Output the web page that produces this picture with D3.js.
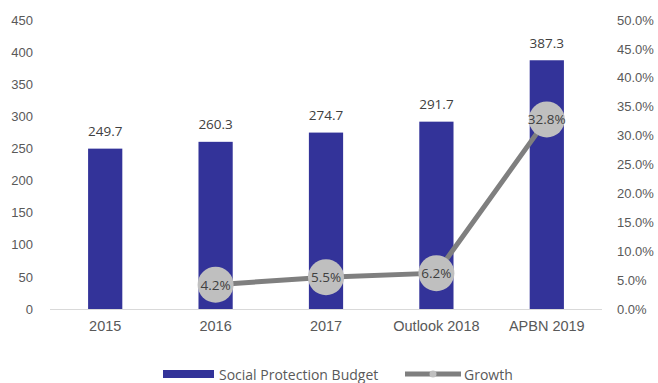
<!DOCTYPE html>
<html>
<head>
<meta charset="utf-8">
<script src="https://cdn.jsdelivr.net/npm/d3@7"></script>
<style>
  html, body { margin: 0; padding: 0; background: #fff; }
  svg { display: block; font-family: "Open Sans", "Liberation Sans", sans-serif; }
</style>
</head>
<body>
<svg id="chart" width="658" height="383"></svg>
<script>
// Social protection budget (trillion IDR) and year-on-year growth
const categories = ["2015", "2016", "2017", "Outlook 2018", "APBN 2019"];
const budget = [249.7, 260.3, 274.7, 291.7, 387.3];
const growth = [null, 4.2, 5.5, 6.2, 32.8];
const leftTicks = [0, 50, 100, 150, 200, 250, 300, 350, 400, 450];
const rightTicks = [0, 5, 10, 15, 20, 25, 30, 35, 40, 45, 50];

const svg = d3.select("#chart");
const margin = { top: 20, right: 56, bottom: 74, left: 50 };
const W = 658, H = 383;
const plotW = W - margin.left - margin.right;
const plotH = H - margin.top - margin.bottom;
const g = svg.append("g").attr("transform", `translate(${margin.left},${margin.top})`);

const x = d3.scaleBand().domain(categories).range([0, plotW]).paddingInner(0.69).paddingOuter(0.345);
const yL = d3.scaleLinear().domain([0, 450]).range([plotH, 0]);
const yR = d3.scaleLinear().domain([0, 50]).range([plotH, 0]);

const textColor = "#595959";

// left axis
const axL = g.append("g").call(d3.axisLeft(yL).tickValues(leftTicks).tickSize(0).tickPadding(17));
axL.select(".domain").remove();
axL.selectAll("text").attr("fill", textColor).style("font-size", "13px");

// right axis
const axR = g.append("g").attr("transform", `translate(${plotW},0)`)
  .call(d3.axisRight(yR).tickValues(rightTicks).tickSize(0).tickPadding(15).tickFormat(d => d.toFixed(1) + "%"));
axR.select(".domain").remove();
axR.selectAll("text").attr("fill", textColor).style("font-size", "13px");

// baseline
g.append("line").attr("x1", 0).attr("x2", plotW).attr("y1", plotH + 0.5).attr("y2", plotH + 0.5)
  .attr("stroke", "#d9d9d9").attr("stroke-width", 1);

// category axis labels
const axB = g.append("g").attr("transform", `translate(0,${plotH})`)
  .call(d3.axisBottom(x).tickSize(0).tickPadding(12));
axB.select(".domain").remove();
axB.selectAll("text").attr("fill", textColor).style("font-size", "14.5px");

// bars
const barColor = "#333399";
g.selectAll("rect.bar").data(budget).join("rect").attr("class", "bar")
  .attr("x", (d, i) => x(categories[i]))
  .attr("width", x.bandwidth())
  .attr("y", d => yL(d))
  .attr("height", d => plotH - yL(d))
  .attr("fill", barColor);

g.selectAll("text.val").data(budget).join("text").attr("class", "val")
  .attr("x", (d, i) => x(categories[i]) + x.bandwidth() / 2)
  .attr("y", d => yL(d) - 16)
  .attr("text-anchor", "middle").attr("dominant-baseline", "middle")
  .attr("fill", "#404040").style("font-size", "13.5px")
  .text(d => d.toFixed(1));

// growth line
const pts = growth.map((v, i) => ({ c: categories[i], v })).filter(d => d.v !== null);
const line = d3.line().x(d => x(d.c) + x.bandwidth() / 2).y(d => yR(d.v));
g.append("path").datum(pts).attr("d", line)
  .attr("fill", "none").attr("stroke", "#7f7f7f").attr("stroke-width", 5);

g.selectAll("circle.gm").data(pts).join("circle").attr("class", "gm")
  .attr("cx", d => x(d.c) + x.bandwidth() / 2).attr("cy", d => yR(d.v))
  .attr("r", 18).attr("fill", "#bfbfbf");

g.selectAll("text.gl").data(pts).join("text").attr("class", "gl")
  .attr("x", d => x(d.c) + x.bandwidth() / 2).attr("y", d => yR(d.v))
  .attr("text-anchor", "middle").attr("dominant-baseline", "central")
  .attr("fill", "#404040").style("font-size", "13.5px")
  .text(d => d.v.toFixed(1) + "%");

// legend
const lg = svg.append("g").attr("transform", "translate(0,374)");
lg.append("rect").attr("x", 163).attr("y", -4).attr("width", 51).attr("height", 8).attr("fill", barColor);
lg.append("text").attr("x", 219).attr("y", 0).attr("dominant-baseline", "central")
  .attr("fill", textColor).style("font-size", "14px").text("Social Protection Budget");
lg.append("line").attr("x1", 405).attr("x2", 461).attr("y1", 0).attr("y2", 0)
  .attr("stroke", "#7f7f7f").attr("stroke-width", 5);
lg.append("circle").attr("cx", 433).attr("cy", 0).attr("r", 3.5).attr("fill", "#bfbfbf");
lg.append("text").attr("x", 464).attr("y", 0).attr("dominant-baseline", "central")
  .attr("fill", textColor).style("font-size", "14px").text("Growth");
</script>
</body>
</html>
